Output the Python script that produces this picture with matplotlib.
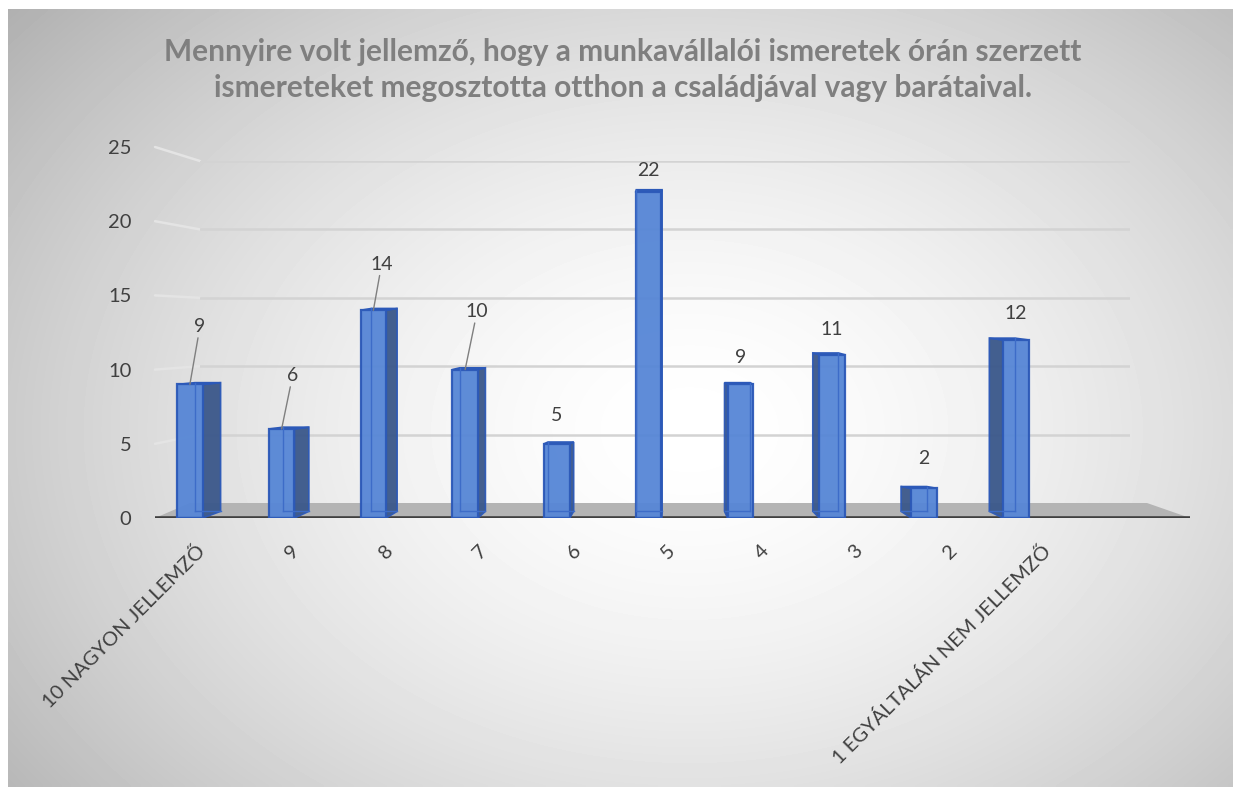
import numpy as np
import matplotlib.pyplot as plt
from matplotlib.patches import Polygon, ConnectionPatch

categories = ['10 NAGYON JELLEMZŐ', '9', '8', '7', '6', '5', '4', '3', '2',
              '1 EGYÁLTALÁN NEM JELLEMZŐ']
counts = [9, 6, 14, 10, 5, 22, 9, 11, 2, 12]
y_ticks = [0, 5, 10, 15, 20, 25]
title = ('Mennyire volt jellemző, hogy a munkavállalói ismeretek órán szerzett\n'
         'ismereteket megosztotta otthon a családjával vagy barátaival.')

plt.rcParams['font.family'] = ['Lato', 'DejaVu Sans']

W, H = 1233, 787
fig = plt.figure(figsize=(W / 100, H / 100), dpi=100)
fig.patch.set_facecolor('white')


def box(x0, y0, x1, y1):
    # pixel box (top-left origin) -> figure rect
    return [x0 / W, 1 - y1 / H, (x1 - x0) / W, (y1 - y0) / H]


# radial grey background
bg = fig.add_axes(box(8, 9, W, H), zorder=0)
gx, gy = np.meshgrid(np.linspace(8, W, 300), np.linspace(9, H, 200))
r = np.sqrt(((gx - 690) / 760) ** 2 + ((gy - 430) / 560) ** 2)
shade = 1 - 0.24 * np.clip(r, 0, 1.2) ** 1.6
bg.imshow(shade, cmap='gray', vmin=0, vmax=1, aspect='auto',
          extent=[0, 1, 0, 1], interpolation='bilinear')
bg.axis('off')

grid_col = '#d3d3d3'

# back wall with gridlines
wall = fig.add_axes(box(200, 161, 1130, 503), zorder=1)
wall.set_facecolor('none')
wall.set_ylim(0, 25)
wall.set_xlim(0, 1)
wall.set_yticks(y_ticks[1:])
wall.set_xticks([])
wall.tick_params(left=False, labelleft=False)
wall.grid(axis='y', color=grid_col, lw=1.8)
for s in wall.spines.values():
    s.set_visible(False)

ax = fig.add_axes(box(155, 147, 1190, 518), zorder=2)
ax.set_facecolor('none')
ax.set_ylim(0, 25)
ax.set_xlim(-0.38, 10.9)
for s in ax.spines.values():
    s.set_visible(False)

# slanted gridline pieces on the left side wall
for v in y_ticks[1:]:
    con = ConnectionPatch(xyA=(0, v), coordsA=ax.get_yaxis_transform(),
                          xyB=(0, v), coordsB=wall.get_yaxis_transform(),
                          color='#e4e4e4', lw=1.8, zorder=1)
    fig.add_artist(con)

# floor
floor = Polygon([(155 / W, 1 - 518 / H), (190 / W, 1 - 503 / H),
                 (1147 / W, 1 - 503 / H), (1190 / W, 1 - 518 / H)],
                closed=True, transform=fig.transFigure, facecolor='#b4b4b4',
                edgecolor='none', zorder=1.5)
fig.add_artist(floor)
ax.axhline(0, color='#3f3f3f', lw=2.6, zorder=2)

# pseudo 3D bars
x = np.arange(len(counts))
fw = 0.28
vp = 5.13
face = '#5686d6'
edge = '#2c59b8'
side_col = '#3a578a'
rb, rt = 0.45, 0.12
for xi, h in zip(x, counts):
    s = 0.038 * (vp - xi)
    xl, xr = xi - fw / 2, xi + fw / 2
    xs = xr if s > 0 else xl
    ax.add_patch(Polygon([(xs, 0), (xs + s, rb), (xs + s, h + rt), (xs, h)],
                         closed=True, facecolor=side_col, edgecolor=edge,
                         lw=1.2, alpha=0.95, zorder=3))
    ax.add_patch(Polygon([(xl, h), (xr, h), (xr + s, h + rt), (xl + s, h + rt)],
                         closed=True, facecolor='#4a78c4', edgecolor=edge,
                         lw=1.2, zorder=3))
    # back edges seen through the glassy front
    bx = xl + s if s > 0 else xr + s
    ax.plot([bx, bx], [rb, h + rt], color='#3d6cc8', lw=1.0, zorder=4.5)
    ax.plot([xl + s, xr + s], [rb, rb], color='#3d6cc8', lw=1.0, zorder=4.5)
ax.bar(x, counts, width=fw, color=face, edgecolor=edge, lw=1.6,
       alpha=0.95, zorder=4)

# data labels
label_lift = [3.9, 3.6, 3.1, 3.9, 1.9, 1.4, 1.8, 1.7, 2.0, 1.8]
label_dx = [0.11, 0.12, 0.09, 0.13, 0, 0, 0, 0, 0, 0]
for i, (xi, h) in enumerate(zip(x, counts)):
    if i < 4:
        ax.annotate(str(h), xy=(xi, h), xytext=(xi + label_dx[i], h + label_lift[i]),
                    ha='center', va='center', fontsize=14, color='#404040',
                    arrowprops=dict(arrowstyle='-', color='#7f7f7f', lw=1.0,
                                    shrinkA=0, shrinkB=0), zorder=6)
    else:
        ax.text(xi + label_dx[i], h + label_lift[i], str(h), ha='center',
                va='center', fontsize=14, color='#404040', zorder=6)

ax.set_yticks(y_ticks)
ax.set_yticklabels([str(v) for v in y_ticks], fontsize=14.5, color='#404040')
ax.tick_params(axis='y', length=0, pad=17)
# category labels drift right with the perspective of the floor
ax.set_xticks(x + 0.07 + 0.024 * x)
ax.set_xticklabels(categories, rotation=45, ha='right', va='top',
                   rotation_mode='anchor', fontsize=14.5, color='#404040')
ax.tick_params(axis='x', length=0, pad=17)

fig.text(0.505, 1 - 70 / H, title, ha='center', va='center', fontsize=21.5,
         fontweight='bold', color='#7f7f7f', linespacing=1.35)

fig.savefig('out.png', dpi=100)
